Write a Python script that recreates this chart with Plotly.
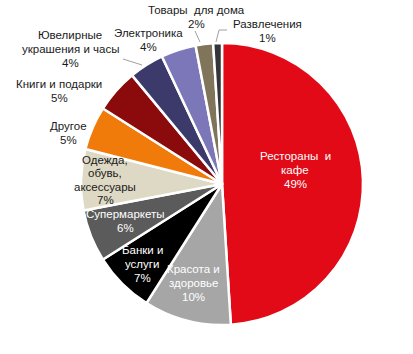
import plotly.graph_objects as go

# ---- data ----
categories = ["Рестораны  и<br>кафе", "Красота и<br>здоровье", "Банки и<br>услуги", "Супермаркеты",
              "Одежда,<br>обувь,<br>аксессуары", "Другое", "Книги и подарки",
              "Ювелирные<br>украшения и часы", "Электроника", "Товары  для дома", "Развлечения"]
values = [49, 10, 7, 6, 7, 5, 5, 4, 4, 2, 1]

# ---- style ----
colors = ["#E20A17", "#A6A6A6", "#000000", "#5B5B5B", "#DDD9C4", "#F07A0A",
          "#8B0A0C", "#3C3A6B", "#7B77B8", "#80745A", "#343539"]
text_colors = ["white", "white", "white", "white", "#1a1a1a", "#1a1a1a",
               "#1a1a1a", "#1a1a1a", "#1a1a1a", "#1a1a1a", "#1a1a1a"]
# label block centre offset from pie centre in px (dx right, dy down)
label_offsets = [(73, -14), (-29, 99), (-80, 80), (-97, 37), (-117, -4), (-154, -51),
                 (-163, -93), (-152, -135), (-74, -144), (-26, -167), (45, -153)]
LINE_H = 13.6
FONT_SIZE = 11.5

W, H = 413, 354
CX, CY, R = 222, 184, 141

def px(x):
    return x / W

def py(y):
    return 1 - y / H

fig = go.Figure(go.Pie(
    labels=categories, values=values, sort=False, direction="clockwise", rotation=0,
    marker=dict(colors=colors, line=dict(color="white", width=2.5)),
    textinfo="none", hoverinfo="label+percent", showlegend=False,
    domain=dict(x=[px(CX - R), px(CX + R)], y=[py(CY + R), py(CY - R)]),
))

total = sum(values)
annotations = []
for lab, v, (dx, dy), tc in zip(categories, values, label_offsets, text_colors):
    pct = round(100 * v / total)
    lines = lab.split("<br>") + [f"{pct}%"]
    n = len(lines)
    for i, t in enumerate(lines):
        yy = CY + dy + (i - (n - 1) / 2) * LINE_H
        annotations.append(dict(
            x=px(CX + dx), y=py(yy), xref="paper", yref="paper",
            text=t, showarrow=False, align="center",
            font=dict(family="Liberation Sans, Arial", size=FONT_SIZE, color=tc),
            xanchor="center", yanchor="middle"))

line_style = dict(color="#A0A0A0", width=1)
shapes = [
    dict(type="line", xref="paper", yref="paper", x0=px(123), y0=py(59), x1=px(142), y1=py(65), line=line_style),
    dict(type="line", xref="paper", yref="paper", x0=px(195), y0=py(31), x1=px(200), y1=py(42), line=line_style),
    dict(type="line", xref="paper", yref="paper", x0=px(216), y0=py(42), x1=px(219), y1=py(30), line=line_style),
    dict(type="line", xref="paper", yref="paper", x0=px(219), y0=py(30), x1=px(227), y1=py(30), line=line_style),
]

fig.update_layout(
    width=W, height=H, margin=dict(l=0, r=0, t=0, b=0),
    paper_bgcolor="white", plot_bgcolor="white",
    annotations=annotations, shapes=shapes,
)
fig.write_html("out.html")
